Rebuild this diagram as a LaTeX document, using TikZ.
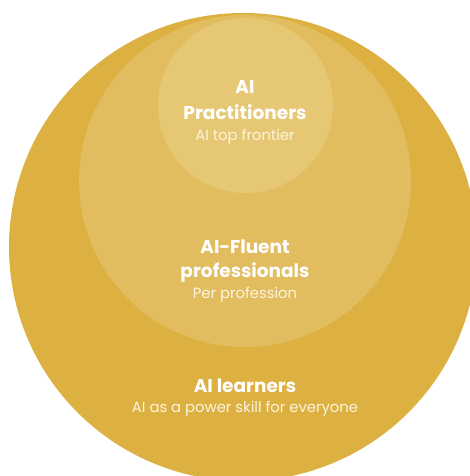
\documentclass[tikz,border=0pt]{standalone}
\usepackage{fontspec}
\setmainfont{Poppins}
\definecolor{ringout}{RGB}{221,176,66}
\definecolor{ringmid}{RGB}{226,189,95}
\definecolor{ringin}{RGB}{230,199,116}
\definecolor{subtext}{RGB}{252,244,222}
\begin{document}
\begin{tikzpicture}[x=1pt,y=-1pt,
  heading/.style={text=white,font=\bfseries\fontsize{18.5}{21}\selectfont,inner sep=0pt,anchor=base},
  caption/.style={text=subtext,font=\fontsize{14.8}{17}\selectfont,inner sep=0pt,anchor=base}]
\useasboundingbox (0,0) rectangle (470,476);
\clip (0,0) rectangle (470,476);
% nested circles, largest first
\fill[ringout] (243,247) circle (234pt);
\fill[ringmid] (245,181) circle (166pt);
\fill[ringin]  (245.5,105.5) circle (87.5pt);
% innermost circle
\node[heading] (practA) at (245,94) {AI};
\node[heading] (practB) at (245,120) {Practitioners};
\node[caption] (practC) at (245,140) {AI top frontier};
% middle circle
\node[heading] (fluentA) at (245,253) {AI-Fluent};
\node[heading] (fluentB) at (245,277) {professionals};
\node[caption] (fluentC) at (245,298) {Per profession};
% outer circle
\node[heading] (learnA) at (245,392) {AI learners};
\node[caption] (learnB) at (245,412) {AI as a power skill for everyone};
\end{tikzpicture}
\end{document}
